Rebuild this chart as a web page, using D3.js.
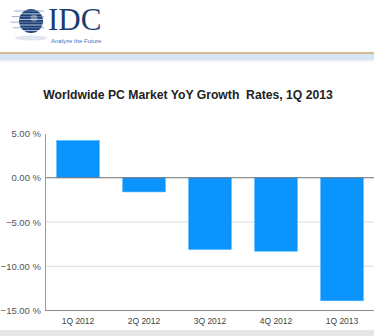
<!DOCTYPE html>
<html>
<head>
<meta charset="utf-8">
<script src="https://cdn.jsdelivr.net/npm/d3@7"></script>
<style>
  body { margin: 0; background: #fff; }
  svg { display: block; }
</style>
</head>
<body>
<div id="chart"></div>
<script>
// Chart data
const quarters = ["1Q 2012", "2Q 2012", "3Q 2012", "4Q 2012", "1Q 2013"];
const growth = [4.2, -1.6, -8.1, -8.3, -13.9];
const yTicks = [5, 0, -5, -10, -15];

const W = 374, H = 336;

const svg = d3.select("#chart").append("svg")
    .attr("width", W)
    .attr("height", H);

// Header / logo
const logo = svg.append("g");
logo.append("ellipse")
    .attr("cx", 31).attr("cy", 38).attr("rx", 16).attr("ry", 2.5)
    .attr("fill", "#dfe6ef");
logo.append("circle")
    .attr("cx", 31).attr("cy", 21).attr("r", 12)
    .attr("fill", "#1c3f78");
// stripes across the globe
d3.range(8).forEach(function(i) {
    const yy = 11 + i * 2.8;
    logo.append("line")
        .attr("x1", 10 + Math.abs(i - 3.5) * 1.2).attr("x2", 44)
        .attr("y1", yy).attr("y2", yy)
        .attr("stroke", i % 2 ? "#ffffff" : "#7f93b5")
        .attr("stroke-width", 0.9)
        .attr("opacity", 0.8);
});
logo.append("circle")
    .attr("cx", 34).attr("cy", 18).attr("r", 3.5)
    .attr("fill", "#ffffff").attr("opacity", 0.35);
logo.append("text")
    .attr("x", 48).attr("y", 30)
    .attr("font-family", "Liberation Serif, serif")
    .attr("font-size", 31)
    .attr("fill", "#1b3c73")
    .text("IDC");
logo.append("text")
    .attr("x", 51).attr("y", 43)
    .attr("font-family", "Liberation Sans, Arial, sans-serif")
    .attr("font-size", 6)
    .attr("fill", "#3a72c4")
    .text("Analyze the Future");

svg.append("rect").attr("x", 0).attr("y", 52).attr("width", W).attr("height", 2)
    .attr("fill", "#d3bd93");
svg.append("rect").attr("x", 0).attr("y", 54).attr("width", W).attr("height", 6)
    .attr("fill", "#d7e5f3");
svg.append("rect").attr("x", 0).attr("y", 60).attr("width", W).attr("height", 2)
    .attr("fill", "#eef4fa");

// bottom separator
svg.append("rect").attr("x", 0).attr("y", 330).attr("width", W).attr("height", 6)
    .attr("fill", "#e6e6e6");

// Title
svg.append("text")
    .attr("x", 188).attr("y", 99)
    .attr("text-anchor", "middle")
    .attr("font-family", "Liberation Sans, Arial, sans-serif")
    .attr("font-weight", "bold")
    .attr("font-size", 12.2)
    .attr("fill", "#222")
    .style("white-space", "pre")
    .text("Worldwide PC Market YoY Growth  Rates, 1Q 2013");

// Scales
const x = d3.scaleBand()
    .domain(quarters)
    .range([45, 375])
    .paddingInner(0.355)
    .paddingOuter(0.1775);

const y = d3.scaleLinear()
    .domain([-15, 5])
    .range([310.5, 133.5]);

// Gridlines
svg.append("g")
    .selectAll("line")
    .data([-5, -10])
    .join("line")
    .attr("x1", 45).attr("x2", W)
    .attr("y1", d => y(d)).attr("y2", d => y(d))
    .attr("stroke", "#dcdcdc");

// Bars
svg.append("g")
    .selectAll("rect")
    .data(growth)
    .join("rect")
    .attr("x", (d, i) => x(quarters[i]))
    .attr("width", x.bandwidth())
    .attr("y", d => y(Math.max(0, d)))
    .attr("height", d => Math.abs(y(d) - y(0)))
    .attr("fill", "#0b94fb")
    .attr("stroke", "#3fb0ff")
    .attr("stroke-width", 0.6);

// Zero line
svg.append("line")
    .attr("x1", 45).attr("x2", W)
    .attr("y1", y(0)).attr("y2", y(0))
    .attr("stroke", "#6f6f6f").attr("stroke-width", 1.2);

// Y axis
const yAxis = svg.append("g")
    .attr("transform", "translate(45,0)")
    .call(d3.axisLeft(y).tickValues(yTicks).tickSize(0).tickPadding(4)
        .tickFormat(d => d3.format(".2f")(d) + " %"));
yAxis.select(".domain").attr("stroke", "#9a9a9a");
yAxis.selectAll("text")
    .attr("font-family", "Liberation Sans, Arial, sans-serif")
    .attr("font-size", 9.5)
    .attr("fill", "#555");

// X axis
const xAxis = svg.append("g")
    .attr("transform", `translate(0,${y(-15)})`)
    .call(d3.axisBottom(x).tickSize(0).tickPadding(7));
xAxis.select(".domain").attr("stroke", "#8a8a8a").attr("d", `M45,0H${W}`);
xAxis.selectAll("text")
    .attr("font-family", "Liberation Sans, Arial, sans-serif")
    .attr("font-size", 8.5)
    .attr("fill", "#444");
</script>
</body>
</html>
